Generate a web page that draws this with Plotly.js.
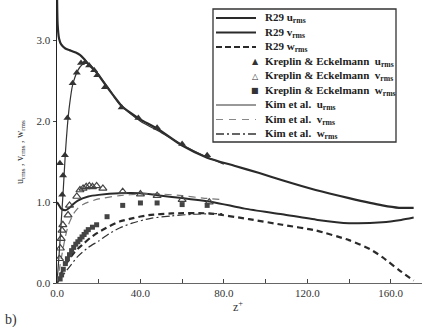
<!DOCTYPE html>
<html>
<head>
<meta charset="utf-8">
<script src="https://cdn.plot.ly/plotly-3.0.1.min.js"></script>
<style>html,body{margin:0;padding:0;background:#fff;}#chart{width:422px;height:327px;}</style>
</head>
<body>
<div id="chart"></div>
<script>
// R29 computed profiles
const r29_z_u = [0, 0.3, 1, 2, 4, 6, 9, 11, 13, 15, 18, 20, 23, 27, 31, 36, 40, 48, 60, 72, 85, 97, 108, 124, 140, 156, 164, 171];
const r29_u   = [3.6, 3.2, 3.02, 2.95, 2.9, 2.88, 2.85, 2.82, 2.77, 2.71, 2.63, 2.57, 2.46, 2.32, 2.19, 2.09, 2.02, 1.91, 1.70, 1.55, 1.45, 1.36, 1.27, 1.15, 1.05, 0.96, 0.93, 0.93];
const r29_z_v = [0, 1, 2, 4, 6, 8, 10, 15, 20, 30, 40, 50, 60, 75, 90, 108, 125, 140, 156, 165, 171];
const r29_v   = [1.0, 0.96, 0.92, 0.90, 0.93, 0.98, 1.02, 1.07, 1.09, 1.11, 1.11, 1.08, 1.05, 1.0, 0.92, 0.85, 0.78, 0.74, 0.75, 0.78, 0.81];
const r29_z_w = [0, 2, 4, 6, 9, 12.5, 16, 20, 25, 30, 36, 44, 55, 73, 92, 108, 124, 140, 150, 156, 164, 171];
const r29_w   = [0, 0.12, 0.22, 0.30, 0.40, 0.48, 0.56, 0.63, 0.70, 0.76, 0.80, 0.84, 0.86, 0.86, 0.79, 0.72, 0.65, 0.53, 0.42, 0.32, 0.16, 0.03];

// Kreplin & Eckelmann measurements
const ke_z_u = [1.4, 2.5, 2.9, 3.8, 5.0, 7.5, 9.5, 11.5, 13.5, 15.4, 17.8, 19.3, 23, 31, 39, 48, 60, 72];
const ke_u   = [1.48, 1.09, 1.33, 1.58, 2.04, 2.47, 2.60, 2.72, 2.73, 2.69, 2.63, 2.57, 2.42, 2.17, 2.04, 1.92, 1.72, 1.58];
const ke_z_v = [1.2, 1.6, 2.0, 2.4, 2.8, 5.3, 6.0, 9.5, 11, 12.5, 14, 15.5, 17, 19, 22, 31.5, 40, 48, 60, 73];
const ke_v   = [0.30, 0.43, 0.55, 0.65, 0.72, 0.84, 0.96, 1.07, 1.15, 1.17, 1.19, 1.20, 1.19, 1.20, 1.17, 1.13, 1.10, 1.08, 1.03, 1.00];
const ke_z_w = [1.5, 2.2, 3, 4, 5, 6, 7, 8, 9, 10, 11, 12, 13, 14, 15, 17, 19, 24, 31.5, 40, 48, 60, 72];
const ke_w   = [0.05, 0.10, 0.17, 0.24, 0.30, 0.35, 0.40, 0.44, 0.48, 0.51, 0.54, 0.57, 0.60, 0.63, 0.66, 0.69, 0.72, 0.82, 0.96, 0.99, 0.99, 0.97, 0.96];

// Kim et al. DNS
const kim_z_u = [0, 1, 2, 3, 4, 5, 6, 7.5, 10, 12, 14, 16, 20, 25, 30, 40, 50, 60, 70, 80];
const kim_u   = [0, 0.35, 0.75, 1.15, 1.6, 1.95, 2.2, 2.45, 2.63, 2.70, 2.72, 2.69, 2.57, 2.40, 2.21, 2.0, 1.86, 1.71, 1.58, 1.47];
const kim_z_v = [0, 2, 4, 5.5, 8, 11, 15, 20, 30, 40, 50, 60, 70, 80];
const kim_v   = [0, 0.30, 0.57, 0.72, 0.86, 0.95, 1.0, 1.04, 1.08, 1.10, 1.10, 1.08, 1.05, 1.03];
const kim_z_w = [0, 3, 6, 10, 15, 20, 25, 30, 36, 45, 55, 65, 80];
const kim_w   = [0, 0.10, 0.20, 0.33, 0.44, 0.52, 0.61, 0.68, 0.74, 0.80, 0.83, 0.85, 0.86];

const xTicks = [0, 40, 80, 120, 160];
const yTicks = [0, 1, 2, 3];

const legendLabels = [
  "R29 u<sub>rms</sub>", "R29 v<sub>rms</sub>", "R29 w<sub>rms</sub>",
  "Kreplin &amp; Eckelmann\u00a0\u00a0u<sub>rms</sub>", "Kreplin &amp; Eckelmann\u00a0\u00a0v<sub>rms</sub>", "Kreplin &amp; Eckelmann\u00a0\u00a0w<sub>rms</sub>",
  "Kim et al.\u00a0\u00a0u<sub>rms</sub>", "Kim et al.\u00a0\u00a0v<sub>rms</sub>", "Kim et al.\u00a0\u00a0w<sub>rms</sub>"
];

const dark = '#2a2a2a';
const serif = 'Liberation Serif, Times New Roman, serif';

const traces = [
  {x: r29_z_u, y: r29_u, mode: 'lines', line: {color: dark, width: 2.2, shape: 'spline', smoothing: 0.6}},
  {x: r29_z_v, y: r29_v, mode: 'lines', line: {color: dark, width: 2, shape: 'spline', smoothing: 0.6}},
  {x: r29_z_w, y: r29_w, mode: 'lines', line: {color: dark, width: 2.2, dash: '6px,4px', shape: 'spline', smoothing: 0.6}},
  {x: kim_z_u, y: kim_u, mode: 'lines', line: {color: '#333', width: 1.2, shape: 'spline', smoothing: 0.6}},
  {x: kim_z_v, y: kim_v, mode: 'lines', line: {color: '#777', width: 1.2, dash: '7px,5px', shape: 'spline', smoothing: 0.6}},
  {x: kim_z_w, y: kim_w, mode: 'lines', line: {color: '#333', width: 1.2, dash: '8px,3px,2px,3px', shape: 'spline', smoothing: 0.6}},
  {x: ke_z_u, y: ke_u, mode: 'markers', marker: {symbol: 'triangle-up', size: 7, color: '#333'}},
  {x: ke_z_v, y: ke_v, mode: 'markers', marker: {symbol: 'triangle-up-open', size: 7, color: '#444', line: {width: 1.2}}},
  {x: ke_z_w, y: ke_w, mode: 'markers', marker: {symbol: 'square', size: 5, color: '#444'}}
];

// pixel helpers for layout decoration (legend box)
const L = 57, W = 365, T = 0, H = 283;
const px = v => (v - L) / W;
const py = v => (T + H - v) / H;

const rowY = legendLabels.map((_, i) => 18 + 14.5 * i);
const shapes = [
  {type: 'rect', xref: 'paper', yref: 'paper', x0: px(213), x1: px(396), y0: py(142), y1: py(9), line: {color: '#333', width: 1.3}, fillcolor: '#fff', layer: 'above'}
];
const sampleStyles = [
  {color: dark, width: 2, dash: 'solid'},
  {color: dark, width: 2, dash: 'solid'},
  {color: dark, width: 2, dash: '6px,3px'},
  null, null, null,
  {color: '#333', width: 1, dash: 'solid'},
  {color: '#888', width: 1, dash: '7px,6px'},
  {color: '#333', width: 1.3, dash: '8px,3px,2px,3px'}
];
sampleStyles.forEach((s, i) => {
  if (s) shapes.push({type: 'line', xref: 'paper', yref: 'paper', x0: px(216), x1: px(256), y0: py(rowY[i]), y1: py(rowY[i]), line: s, layer: 'above'});
});
const markerGlyphs = [null, null, null, '\u25B2', '\u25B3', '\u25A0', null, null, null];

const annotations = [];
legendLabels.forEach((t, i) => {
  annotations.push({xref: 'paper', yref: 'paper', x: px(263), y: py(rowY[i]), xanchor: 'left', yanchor: 'middle', text: t, showarrow: false, font: {family: serif, size: 11, color: '#222', weight: 'bold'}});
  if (markerGlyphs[i]) annotations.push({xref: 'paper', yref: 'paper', x: px(255), y: py(rowY[i]), xanchor: 'center', yanchor: 'middle', text: markerGlyphs[i], showarrow: false, font: {family: 'DejaVu Sans', size: 8, color: '#333'}});
});
annotations.push({xref: 'paper', yref: 'paper', x: px(20), y: py(152), xanchor: 'center', yanchor: 'middle', text: 'u<sub>rms</sub> , v<sub>rms</sub> , w<sub>rms</sub>', textangle: -90, showarrow: false, font: {family: serif, size: 10, color: '#333'}});
annotations.push({xref: 'paper', yref: 'paper', x: px(238), y: py(306), xanchor: 'center', yanchor: 'middle', text: 'z<sup>+</sup>', showarrow: false, font: {family: serif, size: 12, color: '#333'}});
annotations.push({xref: 'paper', yref: 'paper', x: px(3), y: py(310), xanchor: 'left', yanchor: 'top', text: 'b)', showarrow: false, font: {family: serif, size: 14, color: '#333'}});

const layout = {
  width: 422, height: 327,
  margin: {l: L, r: 422 - L - W, t: T, b: 327 - H},
  paper_bgcolor: '#fff', plot_bgcolor: '#fff',
  showlegend: false,
  xaxis: {range: [0, 175], showline: true, linecolor: '#666', linewidth: 1, ticks: 'inside', ticklen: 4, tickcolor: '#444',
          tickvals: xTicks, ticktext: xTicks.map(v => v.toFixed(1)),
          minor: {dtick: 20, tick0: 0, ticks: 'inside', ticklen: 4, tickcolor: '#444', showgrid: false},
          showgrid: false, zeroline: false, tickfont: {family: serif, size: 11, color: '#333'}},
  yaxis: {range: [0, 3.5], showline: true, linecolor: '#222', linewidth: 1.5, ticks: 'outside', ticklen: 3, tickcolor: '#444',
          tickvals: yTicks, ticktext: yTicks.map(v => v.toFixed(1)),
          showgrid: false, zeroline: false, tickfont: {family: serif, size: 11, color: '#333'}},
  shapes: shapes,
  annotations: annotations
};

Plotly.newPlot('chart', traces, layout, {staticPlot: true, displayModeBar: false});
</script>
</body>
</html>
